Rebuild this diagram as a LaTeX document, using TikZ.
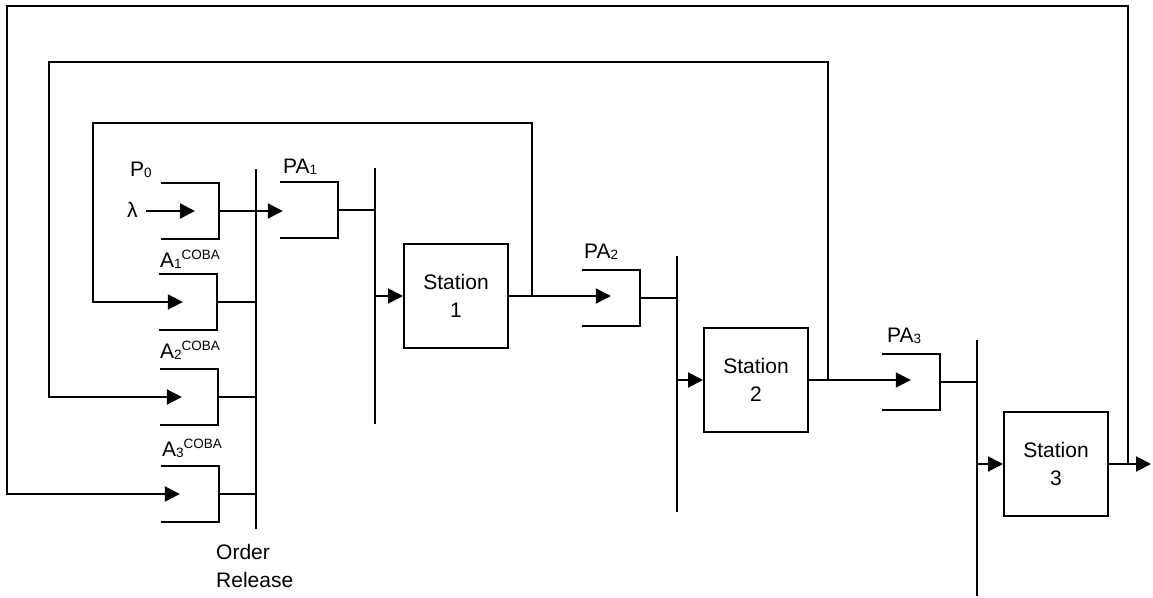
\documentclass[tikz,border=0pt]{standalone}
\usepackage{fontspec}
\setmainfont{Liberation Sans}
\usetikzlibrary{arrows.meta,calc}
\newcommand\mysub[1]{\raisebox{-1.5pt}{\fontsize{13.5}{13.5}\selectfont #1}}
\newcommand\mysup[1]{\raisebox{7.5pt}{\fontsize{13.5}{13.5}\selectfont #1}}
\begin{document}
\begin{tikzpicture}[x=1pt,y=-1pt,
  every node/.style={font=\fontsize{21}{27.4}\selectfont},
  ln/.style={line width=2pt},
  arr/.style={ln,-{Triangle[length=15pt,width=15pt]}},
  buffer/.style={minimum width=58pt,minimum height=56pt,inner sep=0pt},
  station/.style={draw,line width=2pt,minimum width=104pt,minimum height=104pt,align=center,inner sep=0pt},
  lbl/.style={anchor=base west,inner sep=0pt}]
\useasboundingbox (0,0) rectangle (1153,597);

% buffers
\node[buffer] (p0)  at (190,211) {};
\node[buffer] (pa1) at (309,210) {};
\node[buffer] (a1)  at (188,302) {};
\node[buffer] (a2)  at (189,397) {};
\node[buffer] (a3)  at (190,494) {};
\node[buffer] (pa2) at (611,298) {};
\node[buffer] (pa3) at (911,382) {};
\foreach \b in {p0,pa1,a1,a2,a3,pa2,pa3}
  \draw[ln] (\b.north west) -| (\b.south east) -- (\b.south west);

% stations
\node[station] (s1) at (456,296)  {Station\\1};
\node[station] (s2) at (756,380)  {Station\\2};
\node[station] (s3) at (1056,464) {Station\\3};

% bars
\coordinate (ort) at (256,169); \coordinate (orb) at (256,529);
\coordinate (b1t) at (375,168); \coordinate (b1b) at (375,424);
\coordinate (b2t) at (677,256); \coordinate (b2b) at (677,512);
\coordinate (b3t) at (977,340); \coordinate (b3b) at (977,596);
\draw[ln] (ort) -- (orb);
\draw[ln] (b1t) -- (b1b);
\draw[ln] (b2t) -- (b2b);
\draw[ln] (b3t) -- (b3b);

% labels
\node[lbl] (lp0)  at (130,176) {P\mysub{0}};
\node[lbl] (llam) at (127,217) {λ};
\node[lbl] (lpa1) at (283,173) {PA\mysub{1}};
\node[lbl] (la1)  at (160,267) {A\mysub{1}\mysup{COBA}};
\node[lbl] (la2)  at (160,358) {A\mysub{2}\mysup{COBA}};
\node[lbl] (la3)  at (162,456) {A\mysub{3}\mysup{COBA}};
\node[lbl] (lpa2) at (584,258) {PA\mysub{2}};
\node[lbl] (lpa3) at (887,342) {PA\mysub{3}};
\node[lbl,align=left] (lor) at (216,587) {Order\\Release};

% forward flow
\draw[arr] ($(llam.east |- p0.center)+(8,0)$) -- ($(p0.center)+(5,0)$);
\coordinate (pa1tip) at ($(pa1.west)+(3,0)$);
\draw[arr] (p0.east) -- (pa1tip |- p0.east);
\draw[ln] (pa1.east) -- (pa1.east -| b1t);
\draw[arr] (s1.west -| b1t) -- (s1.west);
\draw[arr] (s1.east) -- ($(pa2.west |- s1.east)+(29,0)$);
\draw[ln] (pa2.east) -- (pa2.east -| b2t);
\draw[arr] (s2.west -| b2t) -- (s2.west);
\draw[arr] (s2.east) -- ($(pa3.west |- s2.east)+(29,0)$);
\draw[ln] (pa3.east) -- (pa3.east -| b3t);
\draw[arr] (s3.west -| b3t) -- (s3.west);
\coordinate (out) at (1151,464);
\draw[arr] (s3.east) -- (out |- s3.east);

\draw[ln] (a1.east) -- (a1.east -| ort);
\draw[ln] (a2.east) -- (a2.east -| ort);
\draw[ln] (a3.east) -- (a3.east -| ort);

% feedback loops
\coordinate (l1tr) at (532,123);  \coordinate (l1tl) at (93,123);
\coordinate (l2tr) at (828,62);   \coordinate (l2tl) at (49,62);
\coordinate (l3tr) at (1128,6);   \coordinate (l3tl) at (7,6);
\draw[arr] (l1tr |- s1.east) -- (l1tr) -- (l1tl) -- (l1tl |- a1.center) -- ($(a1.west)+(24,0)$);
\draw[arr] (l2tr |- s2.east) -- (l2tr) -- (l2tl) -- (l2tl |- a2.center) -- ($(a2.west)+(22,0)$);
\draw[arr] (l3tr |- s3.east) -- (l3tr) -- (l3tl) -- (l3tl |- a3.center) -- ($(a3.west)+(19,0)$);
\end{tikzpicture}
\end{document}
